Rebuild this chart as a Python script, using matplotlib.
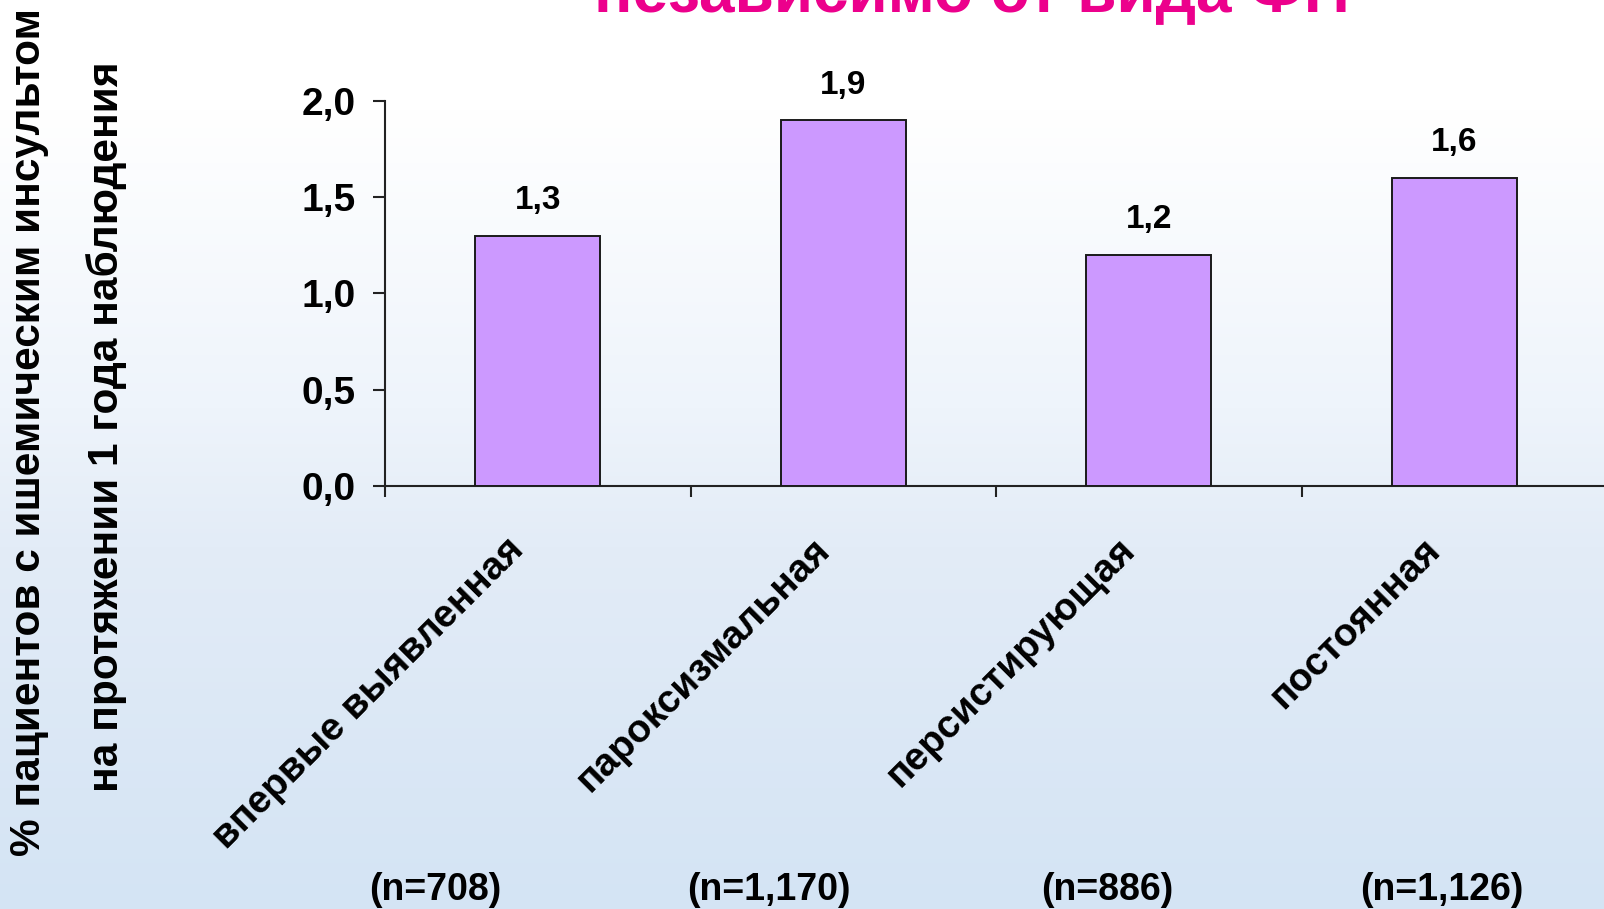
import matplotlib
matplotlib.use("Agg")
import matplotlib.pyplot as plt
import numpy as np
from matplotlib.colors import LinearSegmentedColormap
from matplotlib.ticker import FuncFormatter, FixedLocator

plt.rcParams['font.family'] = ['Liberation Sans', 'DejaVu Sans']

# Data
categories = ["впервые выявленная", "пароксизмальная", "персистирующая", "постоянная"]
stroke_rate = [1.3, 1.9, 1.2, 1.6]
n_labels = ["(n=708)", "(n=1,170)", "(n=886)", "(n=1,126)"]
y_ticks = [0.0, 0.5, 1.0, 1.5, 2.0]

W, H = 1604, 909
fig = plt.figure(figsize=(W / 100, H / 100), dpi=100)

# Soft white-to-blue slide background
bg = fig.add_axes([0, 0, 1, 1], zorder=-10)
cmap = LinearSegmentedColormap.from_list(
    "slide", [(0.0, "#ffffff"), (0.12, "#ffffff"), (0.45, "#eef4fb"),
              (0.6, "#e3ecf7"), (1.0, "#d4e4f4")])
grad = np.linspace(0, 1, 256).reshape(-1, 1)
bg.imshow(grad, aspect="auto", cmap=cmap, extent=[0, 1, 0, 1], origin="upper")
bg.set_axis_off()

def px_to_fig(x, y):
    return x / W, 1 - y / H

left, bottom = 385 / W, 1 - 486 / H
ax = fig.add_axes([left, bottom, 1222 / W, (486 - 100.7) / H])
ax.patch.set_alpha(0)

x = np.arange(len(categories))
bars = ax.bar(x, stroke_rate, width=0.41, color="#CC99FF",
              edgecolor="#1a1a1a", linewidth=1.4, zorder=3)

ax.set_xlim(-0.5, len(categories) - 0.5)
ax.set_ylim(0, 2.0)

for side in ("top", "right"):
    ax.spines[side].set_visible(False)
for side in ("left", "bottom"):
    ax.spines[side].set_color("#222222")
    ax.spines[side].set_linewidth(1.5)

ax.yaxis.set_major_locator(FixedLocator(y_ticks))
ax.yaxis.set_major_formatter(FuncFormatter(lambda v, p: f"{v:.1f}".replace(".", ",")))
ax.tick_params(axis="y", direction="out", length=9, width=1.5, color="#222222",
               labelsize=28, pad=12)
for lab in ax.get_yticklabels():
    lab.set_fontweight("bold")

# category boundary ticks on the x axis
ax.set_xticks(np.arange(len(categories) + 1) - 0.5)
ax.set_xticklabels([])
ax.tick_params(axis="x", direction="out", length=8, width=1.5, color="#222222")

# value labels above bars
for xi, v in zip(x, stroke_rate):
    ax.annotate(f"{v:.1f}".replace(".", ","), xy=(xi, v), xytext=(0, 14),
                textcoords="offset points", ha="center", va="bottom",
                fontsize=24, fontweight="bold")

# rotated category names
for xi, name in zip(x, categories):
    ax.annotate(name, xy=(xi, 0), xycoords=("data", "axes fraction"),
                xytext=(-14, -42), textcoords="offset points",
                rotation=45, rotation_mode="anchor", ha="right", va="center",
                fontsize=28, fontweight="bold")

# group sizes along the bottom
n_x = [435, 769, 1107, 1442]
for nx, lab in zip(n_x, n_labels):
    fx, fy = px_to_fig(nx, 890)
    fig.text(fx, fy, lab, ha="center", va="center", fontsize=27, fontweight="bold")

# vertical axis caption in two lines
fx, fy = px_to_fig(29, 432)
fig.text(fx, fy, "% пациентов с ишемическим инсультом", rotation=90,
         ha="center", va="center", fontsize=30.5, fontweight="bold")
fx, fy = px_to_fig(107, 427)
fig.text(fx, fy, "на протяжении 1 года наблюдения", rotation=90,
         ha="center", va="center", fontsize=30.5, fontweight="bold")

# heading line
fx, fy = px_to_fig(972, 11)
fig.text(fx, fy, "независимо от вида ФП", ha="center", va="baseline",
         fontsize=46, fontweight="bold", color="#EC008C")

fig.savefig("out.png", dpi=100)
